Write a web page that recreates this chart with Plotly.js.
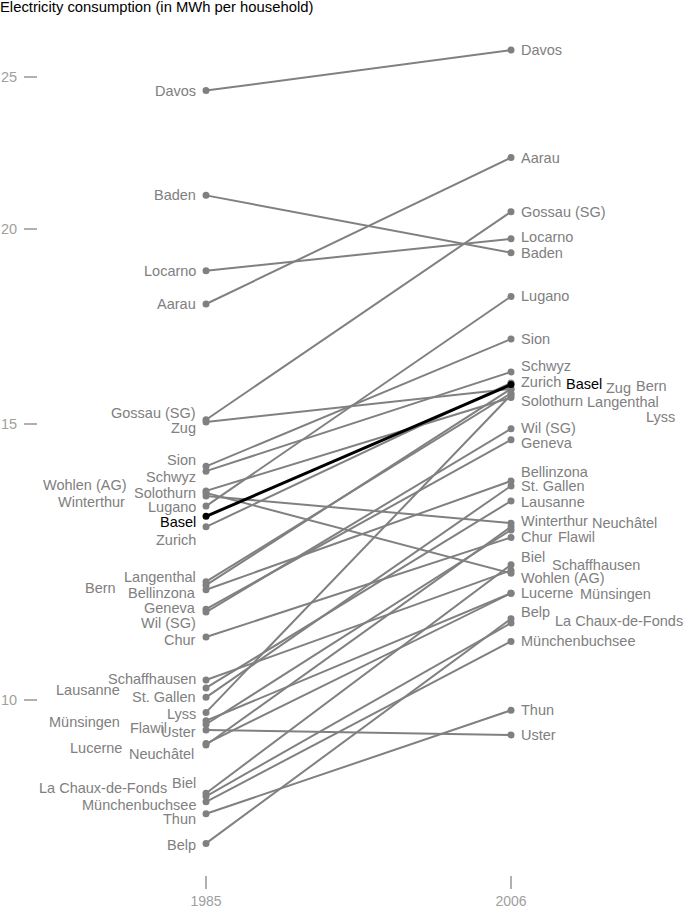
<!DOCTYPE html>
<html>
<head>
<meta charset="utf-8">
<script src="https://cdn.plot.ly/plotly-3.0.1.min.js"></script>
<style>html,body{margin:0;padding:0;background:#fff;}#chart{width:685px;height:909px;}</style>
</head>
<body>
<div id="chart"></div>
<script>
// ---- data ----
const years = [1985, 2006];
const cities = ["Davos","Baden","Locarno","Aarau","Gossau (SG)","Zug","Sion","Schwyz","Solothurn","Wohlen (AG)","Winterthur","Lugano","Basel","Zurich","Langenthal","Bern","Bellinzona","Geneva","Wil (SG)","Chur","Schaffhausen","Lausanne","St. Gallen","Lyss","Münsingen","Flawil","Uster","Lucerne","Neuchâtel","Biel","La Chaux-de-Fonds","Münchenbuchsee","Thun","Belp"];
const values1985 = [24.5,21.0,18.8,17.9,15.1,15.05,14.1,14.0,13.6,13.56,13.5,13.3,13.1,12.9,11.9,11.84,11.76,11.43,11.38,10.97,10.30,10.18,10.04,9.82,9.70,9.65,9.57,9.38,9.36,8.72,8.68,8.61,8.46,8.10];
const values2006 = [26.0,19.3,19.7,22.2,20.5,15.8,17.0,16.2,15.6,12.05,12.97,18.1,15.9,15.94,15.7,15.8,13.8,14.66,14.9,12.7,12.1,13.4,13.7,15.66,11.7,12.84,9.5,11.7,12.9,12.2,11.2,10.9,9.85,11.27];
const highlight = "Basel";
const yTicks = [10, 15, 20, 25];
const titleText = "Electricity consumption (in MWh per household)";

// ---- label placement (pixel offsets, layout only) ----
const leftOffsets = {
  "Gossau (SG)":[0,7],"Zug":[0,-6],"Sion":[0,6],"Schwyz":[0,-6],"Solothurn":[0,-2],
  "Wohlen (AG)":[-69,8],"Winterthur":[-71,-6],"Lugano":[0,-1],"Basel":[0,-6],"Zurich":[0,-13],
  "Langenthal":[0,5],"Bern":[-80,-3],"Bellinzona":[0,-3],"Geneva":[0,1],"Wil (SG)":[0,-11],
  "Chur":[0,-3],"Schaffhausen":[0,1],"Lausanne":[-76,-2],"St. Gallen":[0,0],"Lyss":[0,-2],
  "Münsingen":[-76,-1],"Flawil":[-29,-4],"Uster":[0,-2],"Lucerne":[-74,-4],"Neuchâtel":[-2,-9],
  "Biel":[0,10],"La Chaux-de-Fonds":[-29,8],"Münchenbuchsee":[0,-3],"Thun":[0,-5],"Belp":[0,-2]
};
const rightOffsets = {
  "Locarno":[0,2],"Schwyz":[0,6],"Zurich":[0,1],"Basel":[45,1],"Zug":[85,1],"Bern":[115,3],
  "Solothurn":[0,-3],"Langenthal":[66,-9],"Lyss":[125,-22],"Wil (SG)":[0,1],"Geneva":[0,-3],
  "Bellinzona":[0,9],"Lausanne":[0,-1],"Winterthur":[0,2],"Neuchâtel":[71,4],"Flawil":[37,-7],
  "Biel":[0,8],"Schaffhausen":[31,5],"Wohlen (AG)":[0,-5],"Münsingen":[59,-1],"Belp":[0,7],
  "La Chaux-de-Fonds":[34,2]
};

const GRAY = "#808080";
const FONT = "Liberation Sans, Arial, sans-serif";
const FS = 14.5;

const traces = [];
const order = cities.map((c,i)=>i).sort((a,b)=> (cities[a]===highlight) - (cities[b]===highlight));
order.forEach(i => {
  const hl = cities[i] === highlight;
  traces.push({
    x: years, y: [values1985[i], values2006[i]],
    type: "scatter", mode: "lines+markers",
    line: {color: hl ? "#000" : GRAY, width: hl ? 3 : 2},
    marker: {color: hl ? "#000" : GRAY, size: 7},
    hoverinfo: "skip", showlegend: false
  });
});

const annotations = [];
cities.forEach((c,i) => {
  const hl = c === highlight;
  const lo = leftOffsets[c] || [0,0];
  const ro = rightOffsets[c] || [0,0];
  annotations.push({
    x: years[0], y: Math.log10(values1985[i]), xref: "x", yref: "y",
    text: c, showarrow: false, xanchor: "right", yanchor: "middle",
    xshift: -9 + lo[0], yshift: lo[1], borderpad: 0,
    font: {family: FONT, size: FS, color: hl ? "#000" : GRAY}
  });
  annotations.push({
    x: years[1], y: Math.log10(values2006[i]), xref: "x", yref: "y",
    text: c, showarrow: false, xanchor: "left", yanchor: "middle",
    xshift: 9 + ro[0], yshift: ro[1], borderpad: 0,
    font: {family: FONT, size: FS, color: hl ? "#000" : GRAY}
  });
});

const layout = {
  width: 685, height: 909,
  margin: {l: 38, r: 0, t: 30, b: 34},
  paper_bgcolor: "#fff", plot_bgcolor: "#fff",
  font: {family: FONT, size: FS, color: GRAY},
  title: {text: titleText, x: 0, xref: "container", xanchor: "left",
          y: 1, yref: "container", yanchor: "top", pad: {t: 2, l: 0},
          font: {family: FONT, size: 14.8, color: "#000"}},
  xaxis: {range: [1973.43, 2017.98], tickvals: years, ticktext: years.map(String),
          ticks: "outside", ticklen: 13, tickwidth: 2, tickcolor: "#b0b0b0",
          ticklabelstandoff: 0,
          showgrid: false, zeroline: false, showline: false,
          tickfont: {family: FONT, size: 14, color: "#a0a0a0"}},
  yaxis: {type: "log", range: [0.8883, 1.4278], tickvals: yTicks, ticktext: yTicks.map(String),
          ticks: "outside", ticklen: 13, tickwidth: 2, tickcolor: "#b0b0b0",
          ticklabelstandoff: 4,
          showgrid: false, zeroline: false, showline: false,
          tickfont: {family: FONT, size: 14.5, color: "#a0a0a0"}},
  annotations: annotations,
  showlegend: false
};

Plotly.newPlot("chart", traces, layout, {displayModeBar: false, staticPlot: true});
</script>
</body>
</html>
